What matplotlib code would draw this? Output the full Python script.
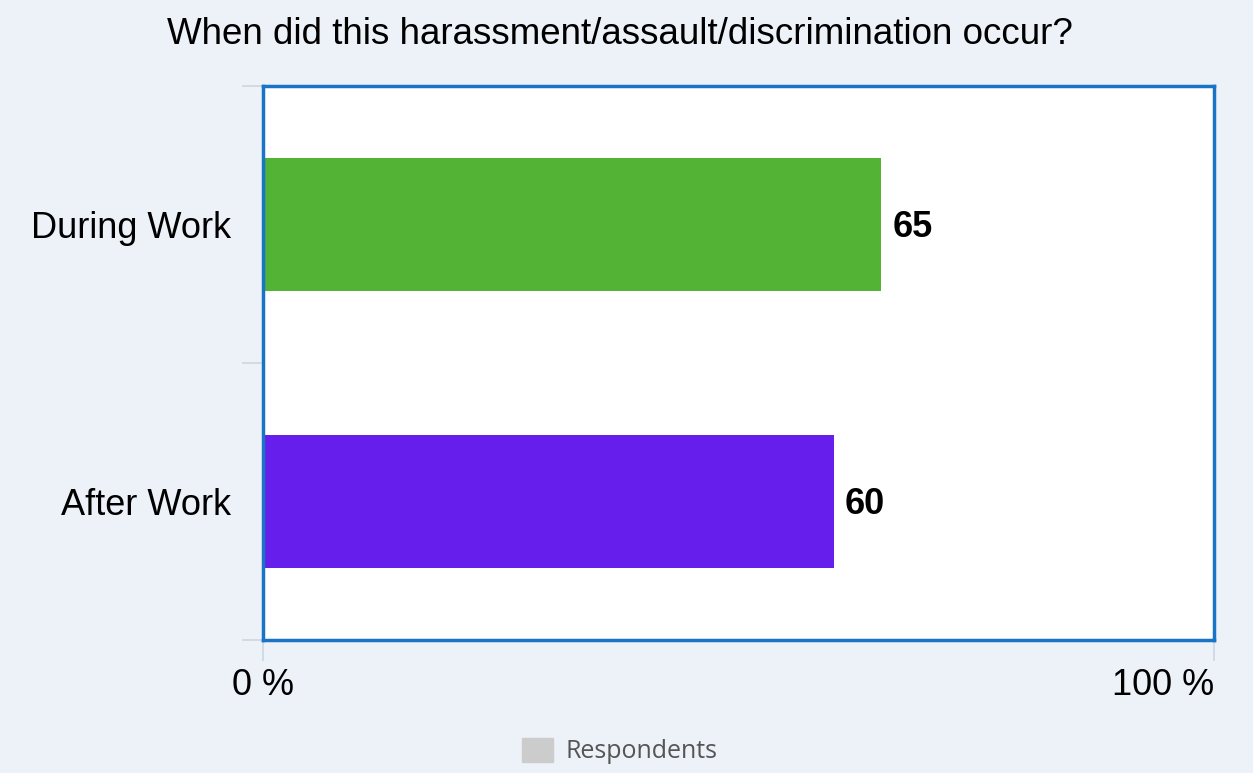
import matplotlib.pyplot as plt
from matplotlib.patches import Rectangle

# Survey answers, percent of respondents
categories = ["During Work", "After Work"]
values = [65, 60]
colors = ["#52b334", "#661eec"]
x_ticks = [0, 100]
x_tick_labels = ["0 %", "100 %"]
title = "When did this harassment/assault/discrimination occur?"
legend_label = "Respondents"

bg = "#edf1f8"
frame = "#1a74c6"

fig = plt.figure(figsize=(12.53, 7.73), dpi=100, facecolor=bg)
ax = fig.add_axes([0.2099, 0.1721, 0.7590, 0.7166])
ax.set_facecolor("white")

y = list(range(len(categories)))
ax.barh(y, values, height=0.48, color=colors, zorder=2)
ax.set_xlim(0, 100)
ax.set_ylim(len(categories) - 0.5, -0.5)

# value labels at bar ends
for yi, v in zip(y, values):
    ax.text(v + 1.2, yi + 0.01, str(v), va="center", ha="left", fontsize=26,
            fontweight="bold", family="Liberation Sans", color="black")

# category labels, minor ticks mark the band edges
ax.set_yticks(y)
ax.set_yticklabels(categories, fontsize=26, family="Liberation Sans")
ax.tick_params(axis="y", which="major", length=0, pad=23)
ax.set_yticks([-0.5, 0.5, 1.5], minor=True)
ax.tick_params(axis="y", which="minor", length=15, width=1.2, color="#ccd6e4")

ax.set_xticks(x_ticks)
ax.set_xticklabels(x_tick_labels, fontsize=26, family="Liberation Sans")
ax.tick_params(axis="x", length=15, width=1.2, color="#ccd6e4", pad=5)
ax.get_xticklabels()[-1].set_horizontalalignment("right")

for s in ax.spines.values():
    s.set_color(frame)
    s.set_linewidth(2.5)
    s.set_zorder(3)

fig.text(0.495, 0.955, title, ha="center", va="center", fontsize=26.5,
         family="Liberation Sans")

# legend swatch and label
fig.patches.append(Rectangle((522 / 1253, 1 - 762 / 773), 31 / 1253, 24 / 773,
                             transform=fig.transFigure, color="#cccccc"))
fig.text(565 / 1253, 1 - 751 / 773, legend_label, ha="left", va="center",
         fontsize=18, family="Open Sans", color="#555555")

fig.savefig("out.png", dpi=100, facecolor=bg)
